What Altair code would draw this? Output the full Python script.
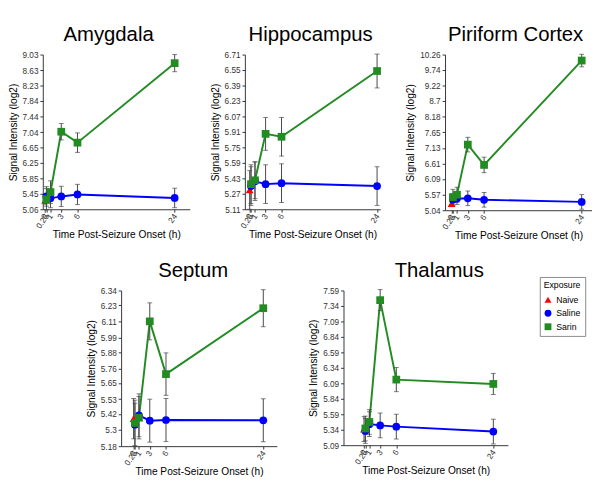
import altair as alt
import pandas as pd

# ---- data ----
groups = ["Naive", "Saline", "Sarin"]
group_colors = ["#ff0000", "#0000ff", "#228b22"]
group_shapes = ["triangle-up", "circle", "square"]

naive_times = [0]
times = [0.25, 1, 3, 6, 24]
x_ticks = [0, 0.25, 1, 3, 6, 24]

amyg_naive = [5.29]
amyg_naive_err = [0.10]
amyg_saline = [5.39, 5.34, 5.39, 5.44, 5.35]
amyg_saline_err = [0.25, 0.24, 0.26, 0.26, 0.25]
amyg_sarin = [5.32, 5.50, 7.05, 6.77, 8.81]
amyg_sarin_err = [0.27, 0.29, 0.21, 0.25, 0.22]
amyg_yticks = [5.06, 5.45, 5.85, 6.25, 6.65, 7.04, 7.44, 7.84, 8.23, 8.63, 9.03]

hipp_naive = [5.31]
hipp_naive_err = [0.20]
hipp_saline = [5.35, 5.40, 5.37, 5.38, 5.35]
hipp_saline_err = [0.20, 0.20, 0.20, 0.20, 0.20]
hipp_sarin = [5.37, 5.41, 5.89, 5.86, 6.54]
hipp_sarin_err = [0.20, 0.19, 0.17, 0.20, 0.175]
hipp_yticks = [5.11, 5.27, 5.43, 5.59, 5.75, 5.91, 6.07, 6.23, 6.39, 6.55, 6.71]

piri_naive = [5.26]
piri_naive_err = [0.10]
piri_saline = [5.39, 5.43, 5.44, 5.39, 5.32]
piri_saline_err = [0.20, 0.20, 0.245, 0.245, 0.245]
piri_sarin = [5.48, 5.56, 7.24, 6.56, 10.06]
piri_sarin_err = [0.26, 0.25, 0.245, 0.26, 0.21]
piri_yticks = [5.04, 5.57, 6.09, 6.61, 7.13, 7.65, 8.18, 8.7, 9.22, 9.74, 10.26]

sept_naive = [5.385]
sept_naive_err = [0.15]
sept_saline = [5.34, 5.41, 5.37, 5.375, 5.373]
sept_saline_err = [0.16, 0.16, 0.16, 0.16, 0.16]
sept_sarin = [5.353, 5.392, 6.11, 5.717, 6.208]
sept_sarin_err = [0.17, 0.158, 0.138, 0.158, 0.138]
sept_yticks = [5.18, 5.3, 5.42, 5.53, 5.65, 5.76, 5.88, 5.99, 6.11, 6.23, 6.34]

thal_naive = [5.35]
thal_naive_err = [0.20]
thal_saline = [5.32, 5.43, 5.41, 5.39, 5.31]
thal_saline_err = [0.20, 0.20, 0.20, 0.20, 0.20]
thal_sarin = [5.36, 5.465, 7.434, 6.15, 6.08]
thal_sarin_err = [0.20, 0.20, 0.17, 0.195, 0.17]
thal_yticks = [5.09, 5.34, 5.59, 5.84, 6.09, 6.34, 6.59, 6.84, 7.09, 7.34, 7.59]

FONT = "Liberation Sans"

LEGEND = alt.Legend(title="Exposure", orient="none", legendX=514, legendY=230,
                    strokeColor="#888888", fillColor="white", padding=4,
                    titleFontSize=9, titleFontWeight="normal", titleColor="black",
                    labelFontSize=9, labelColor="black", titlePadding=6,
                    symbolSize=50, titleFont=FONT, labelFont=FONT, rowPadding=4,
                    symbolStrokeWidth=0)


def make_df(naive, naive_err, saline, saline_err, sarin, sarin_err):
    rows = []
    for t, v, e in zip(naive_times, naive, naive_err):
        rows.append(("Naive", t, v, e))
    for t, v, e in zip(times, saline, saline_err):
        rows.append(("Saline", t, v, e))
    for t, v, e in zip(times, sarin, sarin_err):
        rows.append(("Sarin", t, v, e))
    df = pd.DataFrame(rows, columns=["Exposure", "time", "value", "err"])
    df["lo"] = df["value"] - df["err"]
    df["hi"] = df["value"] + df["err"]
    return df


def panel(title, df, yticks, xdomain, width, height, title_dx=0):
    base = alt.Chart(df)
    x = alt.X("time:Q", scale=alt.Scale(domain=xdomain, nice=False, zero=False),
              axis=alt.Axis(values=x_ticks, format="~g", labelAngle=305,
                            labelOverlap=False, labelFlush=False,
                            title="Time Post-Seizure Onset (h)",
                            titleY=29, titleBaseline="alphabetic"))

    def ych(field):
        return alt.Y(field + ":Q",
                     scale=alt.Scale(domain=[yticks[0], yticks[-1]], nice=False, zero=False),
                     axis=alt.Axis(values=yticks, format=".2~f", labelOverlap=False, labelFlush=False,
                                   title="Signal Intensity (log2)"))

    y = ych("value")
    bars = base.mark_rule(color="#444444", strokeWidth=1).encode(x=x, y=ych("lo"), y2="hi")
    cap_hi = base.mark_tick(color="#444444", orient="horizontal", size=5, thickness=1).encode(x=x, y=ych("hi"))
    cap_lo = base.mark_tick(color="#444444", orient="horizontal", size=5, thickness=1).encode(x=x, y=ych("lo"))
    line_sal = base.transform_filter(alt.datum.Exposure == "Saline").mark_line(
        color=group_colors[1], strokeWidth=2).encode(x=x, y=y)
    line_sar = base.transform_filter(alt.datum.Exposure == "Sarin").mark_line(
        color=group_colors[2], strokeWidth=2).encode(x=x, y=y)
    pts = base.mark_point(filled=True, opacity=1, size=64).encode(
        x=x, y=y,
        color=alt.Color("Exposure:N", scale=alt.Scale(domain=groups, range=group_colors), legend=LEGEND),
        shape=alt.Shape("Exposure:N", scale=alt.Scale(domain=groups, range=group_shapes), legend=LEGEND),
    )
    return alt.layer(line_sal, line_sar, bars, cap_hi, cap_lo, pts).properties(
        width=width, height=height,
        title=alt.TitleParams(title, fontSize=21, font=FONT, fontWeight="normal",
                              anchor="middle", frame="group", offset=6, color="black",
                              dx=title_dx),
    )


amyg = panel("Amygdala", make_df(amyg_naive, amyg_naive_err, amyg_saline, amyg_saline_err, amyg_sarin, amyg_sarin_err),
             amyg_yticks, [-0.42, 26.8], 152, 160, title_dx=-8)
hipp = panel("Hippocampus", make_df(hipp_naive, hipp_naive_err, hipp_saline, hipp_saline_err, hipp_sarin, hipp_sarin_err),
             hipp_yticks, [-0.9, 24.6], 140, 160, title_dx=-2)
piri = panel("Piriform Cortex", make_df(piri_naive, piri_naive_err, piri_saline, piri_saline_err, piri_sarin, piri_sarin_err),
             piri_yticks, [-1.2, 25.9], 152, 161, title_dx=-3)
sept = panel("Septum", make_df(sept_naive, sept_naive_err, sept_saline, sept_saline_err, sept_sarin, sept_sarin_err),
             sept_yticks, [-2.3, 26.5], 161, 161, title_dx=-6)
thal = panel("Thalamus", make_df(thal_naive, thal_naive_err, thal_saline, thal_saline_err, thal_sarin, thal_sarin_err),
             thal_yticks, [-3.8, 26.7], 170, 160, title_dx=14)

spacer = alt.Chart(pd.DataFrame({"a": [0]})).mark_point(opacity=0).encode(
    x=alt.X("a:Q", axis=None), y=alt.Y("a:Q", axis=None)).properties(width=33, height=10)

top = alt.hconcat(alt.hconcat(amyg, hipp, spacing=21), piri, spacing=25)
bottom = alt.hconcat(alt.hconcat(spacer, sept, spacing=12), thal, spacing=33)

chart = alt.vconcat(top, bottom, spacing=20).properties(
    padding={"left": 0, "top": 9, "right": 0, "bottom": 0}
).configure_view(stroke=None).configure_axis(
    grid=False, labelFont=FONT, titleFont=FONT, labelFontSize=8.5, titleFontSize=10.5,
    titleFontWeight="normal", labelColor="#333333", titleColor="black",
    domainColor="#333333", tickColor="#333333", tickSize=3, labelPadding=2, titlePadding=4,
)

chart.save("out.html", embed_options={"renderer": "svg", "actions": False})
